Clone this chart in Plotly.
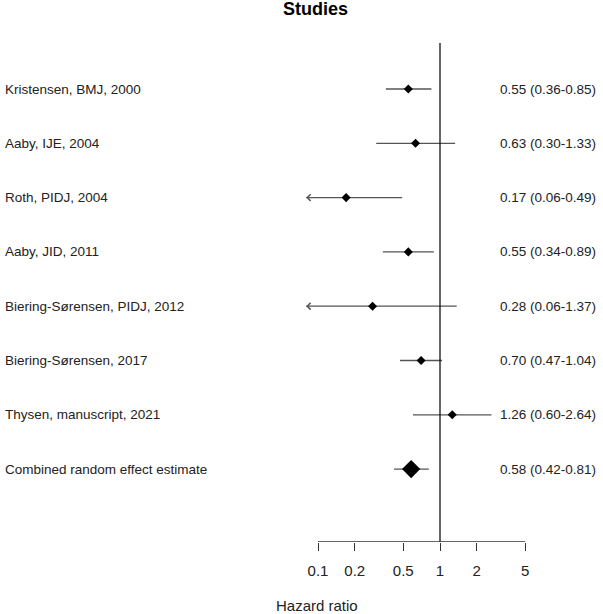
import math
import plotly.graph_objects as go

studies = [
    "Kristensen, BMJ, 2000",
    "Aaby, IJE, 2004",
    "Roth, PIDJ, 2004",
    "Aaby, JID, 2011",
    "Biering-Sørensen, PIDJ, 2012",
    "Biering-Sørensen, 2017",
    "Thysen, manuscript, 2021",
    "Combined random effect estimate",
]
hr = [0.55, 0.63, 0.17, 0.55, 0.28, 0.70, 1.26, 0.58]
lower = [0.36, 0.30, 0.06, 0.34, 0.06, 0.47, 0.60, 0.42]
upper = [0.85, 1.33, 0.49, 0.89, 1.37, 1.04, 2.64, 0.81]
tick_vals = [0.1, 0.2, 0.5, 1, 2, 5]
tick_text = ["0.1", "0.2", "0.5", "1", "2", "5"]
clip_low = 0.08  # lower display limit, values below drawn as arrows
ref_value = 1

W, H = 603, 614
# axis geometry (pixels)
x_px_at_1 = 440.0
px_per_decade = 122.0
axis_y_px = 542.0
row0_px = 89.0
row_step = 54.3
vline_top_px = 43.0

xr = [(0 - x_px_at_1) / px_per_decade, (W - x_px_at_1) / px_per_decade]
yr_bottom = (axis_y_px - row0_px) / row_step
yr_top = (0 - row0_px) / row_step
ydom0 = (H - axis_y_px) / H

rows = list(range(len(studies)))
n_st = len(studies) - 1

fig = go.Figure()

line_col = "#555555"
# CI lines
for i in rows:
    lo = max(lower[i], clip_low)
    fig.add_trace(go.Scatter(x=[lo, upper[i]], y=[rows[i], rows[i]], mode="lines",
                             line=dict(color=line_col, width=1.3), hoverinfo="skip",
                             showlegend=False))

# reference line at HR = 1
vtop = (vline_top_px - row0_px) / row_step
fig.add_trace(go.Scatter(x=[ref_value, ref_value], y=[vtop, yr_bottom], mode="lines",
                         line=dict(color="#111111", width=1.3), hoverinfo="skip", showlegend=False))

# x axis baseline
fig.add_trace(go.Scatter(x=[tick_vals[0], tick_vals[-1]], y=[yr_bottom, yr_bottom], mode="lines",
                         line=dict(color="#333333", width=1.3), hoverinfo="skip",
                         showlegend=False, cliponaxis=False))

# point estimates
fig.add_trace(go.Scatter(x=hr[:n_st], y=rows[:n_st], mode="markers",
                         marker=dict(symbol="diamond", size=7, color="black"),
                         hoverinfo="skip", showlegend=False))
fig.add_trace(go.Scatter(x=hr[n_st:], y=rows[n_st:], mode="markers",
                         marker=dict(symbol="diamond", size=14, color="black"),
                         hoverinfo="skip", showlegend=False))

annotations = []
font_txt = dict(family="Liberation Sans, Arial, sans-serif", size=13.5, color="#222222")
for i in rows:
    annotations.append(dict(x=3 / W, xref="paper", y=rows[i], yref="y", text=studies[i],
                            showarrow=False, xanchor="left", yanchor="middle", font=font_txt))
    annotations.append(dict(x=598 / W, xref="paper", y=rows[i], yref="y",
                            text=f"{hr[i]:.2f} ({lower[i]:.2f}-{upper[i]:.2f})",
                            showarrow=False, xanchor="right", yanchor="middle", font=font_txt))
    if lower[i] < clip_low:
        lx = math.log10(clip_low)
        annotations.append(dict(x=lx, xref="x", y=rows[i], yref="y",
                                ax=lx + 0.03, axref="x", ay=rows[i], ayref="y",
                                showarrow=True, arrowhead=4, arrowsize=1.1, arrowwidth=1.2,
                                arrowcolor=line_col, text=""))

annotations.append(dict(x=316 / W, xref="paper", y=1 - 9 / H, yref="paper", text="<b>Studies</b>",
                        showarrow=False, xanchor="center", yanchor="middle",
                        font=dict(family="Liberation Sans, Arial, sans-serif", size=18, color="black")))
annotations.append(dict(x=317 / W, xref="paper", y=1 - 605 / H, yref="paper", text="Hazard ratio",
                        showarrow=False, xanchor="center", yanchor="middle",
                        font=dict(family="Liberation Sans, Arial, sans-serif", size=15, color="#222222")))

fig.update_layout(
    width=W, height=H,
    margin=dict(l=0, r=0, t=0, b=0),
    paper_bgcolor="white", plot_bgcolor="white",
    annotations=annotations,
    xaxis=dict(type="log", range=xr, domain=[0, 1], tickvals=tick_vals, ticktext=tick_text,
               ticks="outside", ticklen=8, tickwidth=1.3, tickcolor="#333333",
               showline=False, showgrid=False, zeroline=False,
               tickfont=dict(family="Liberation Sans, Arial, sans-serif", size=15, color="#222222"),
               ticklabelstandoff=7),
    yaxis=dict(range=[yr_bottom, yr_top], domain=[ydom0, 1], visible=False),
)

fig.write_html("out.html", config={"displayModeBar": False},
               post_script="document.body.style.margin='0';document.body.style.overflow='hidden';")
